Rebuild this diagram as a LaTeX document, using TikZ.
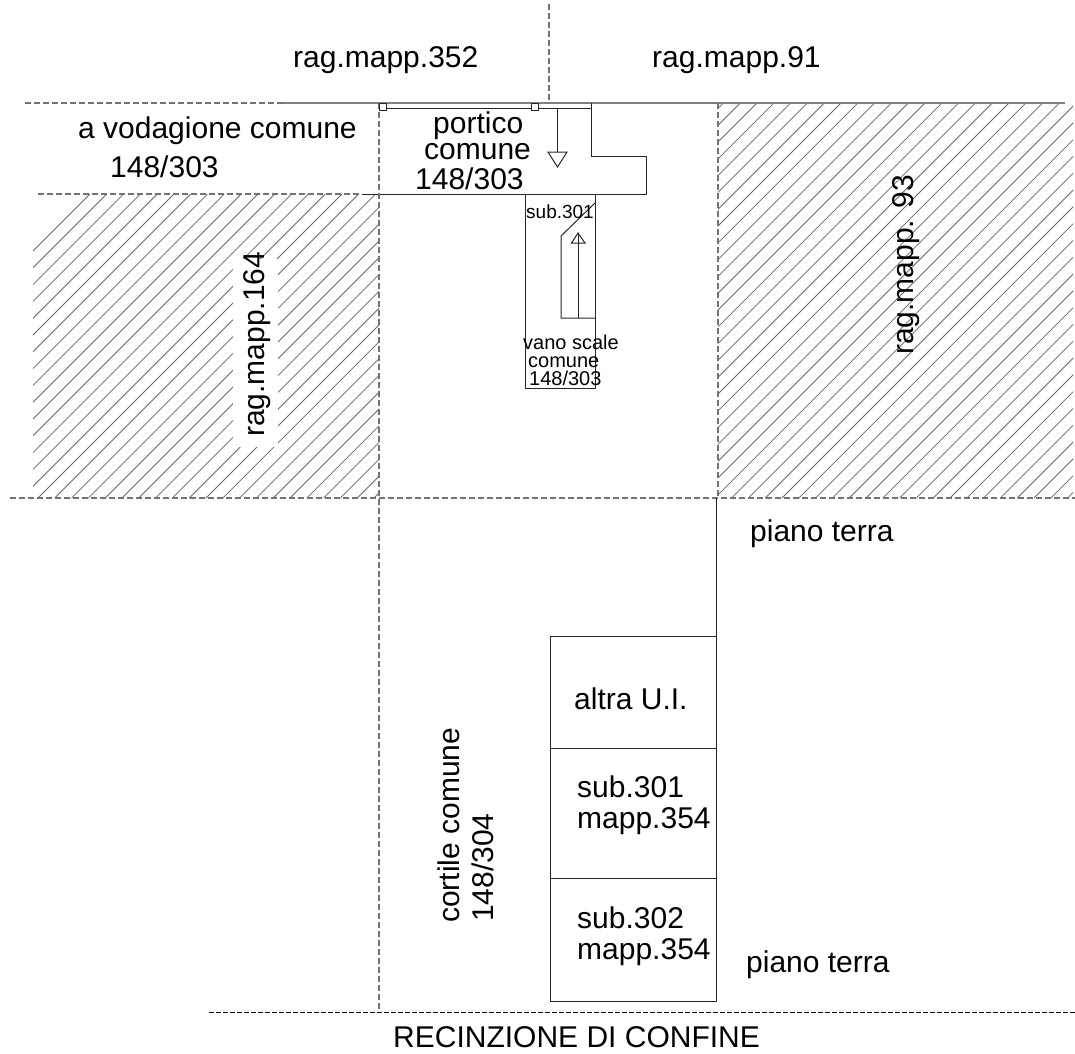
\documentclass[tikz,border=0pt]{standalone}
\usepackage{fontspec}
\setmainfont{Liberation Sans}
\tikzset{
  bigtext/.style={anchor=base west, inner sep=0pt, font=\fontsize{30}{30}\selectfont},
  smalltext/.style={anchor=base west, inner sep=0pt, font=\fontsize{20}{20}\selectfont},
  wall/.style={line width=1pt, black!85},
  boundary/.style={line width=2pt, black!50},
  dashline/.style={line width=1.2pt, black!55, dash pattern=on 6pt off 3pt},
  hatchline/.style={line width=0.8pt, black!60}
}
\begin{document}
\begin{tikzpicture}[x=1pt,y=-1pt]
\useasboundingbox (0,0) rectangle (1075,1053);
\begin{scope}
\clip (33,194) rectangle (379,498);
\foreach \k in {0,...,50} \draw [hatchline] ({284+\k*16.8-194},194) -- ({284+\k*16.8-498},498);
\end{scope}
\begin{scope}
\clip (718,103) rectangle (1073,498);
\foreach \k in {-10,...,50} \draw [hatchline] ({860+\k*16.8-103},103) -- ({860+\k*16.8-498},498);
\end{scope}
\fill [white] (233,259) rectangle (278,447);
\draw [dashline] (25,103) -- (283,103);
\draw [boundary] (283,103) -- (1065,103);
\draw [dashline] (38,194) -- (362,194);
\draw [wall] (362,194) -- (646,194) -- (646,156) -- (591,156) -- (591,103);
\draw [dashline] (10,498) -- (1075,498);
\draw [dashline] (379,103) -- (379,1012);
\draw [dashline] (718,103) -- (718,498);
\draw [dashline] (549,4) -- (549,103);
\draw [line width=0.8pt, black, dash pattern=on 5pt off 2pt] (209,1012) -- (1075,1012);
\draw [wall] (386,108.5) -- (591,108.5);
\draw [wall, fill=white] (379.5,103) rectangle (386,110);
\draw [wall, fill=white] (531,103) rectangle (538,110);
\draw [wall] (557,108) -- (557,152);
\draw [wall] (548,152) -- (567,152) -- (557.5,167) -- cycle;
\draw [wall] (525,194) -- (525,388) -- (595,388) -- (595,194);
\draw [wall] (595,318) -- (561,318) -- (561,236) -- (595,203);
\draw [wall] (578,318) -- (578,233);
\draw [wall] (571.5,243) -- (585,243) -- (578,233) -- cycle;
\draw [wall] (716.5,498) -- (716.5,1001) -- (550.5,1001) -- (550.5,636) -- (716.5,636);
\draw [wall] (550.5,748) -- (716.5,748);
\draw [wall] (550.5,878) -- (716.5,878);
\node [bigtext] (ragA) at (293,67) {rag.mapp.352};
\node [bigtext] (ragB) at (652,67) {rag.mapp.91};
\node [bigtext] (vodagione) at (78,138) {a vodagione comune};
\node [bigtext] (vodagioneB) at (110,177) {148/303};
\node [bigtext] (porticoA) at (433,133) {portico};
\node [bigtext] (porticoB) at (424,159) {comune};
\node [bigtext] (porticoC) at (415,189) {148/303};
\node [smalltext, font=\fontsize{19}{19}\selectfont] (substair) at (526,218) {sub.301};
\node [smalltext] (vanoA) at (523,349) {vano scale};
\node [smalltext] (vanoB) at (528,367) {comune};
\node [smalltext] (vanoC) at (529,385) {148/303};
\node [bigtext, rotate=90] (ragC) at (264,437) {rag.mapp.164};
\node [bigtext, rotate=90] (ragD) at (913,355) {rag.mapp. 93};
\node [bigtext] (pianoA) at (750,541) {piano terra};
\node [bigtext] (altra) at (574,709) {altra U.I.};
\node [bigtext] (subA) at (577,797) {sub.301};
\node [bigtext] (mappA) at (577,828) {mapp.354};
\node [bigtext] (subB) at (577,928) {sub.302};
\node [bigtext] (mappB) at (577,959) {mapp.354};
\node [bigtext] (pianoB) at (746,972) {piano terra};
\node [bigtext, rotate=90] (cortile) at (459,923) {cortile comune};
\node [bigtext, rotate=90] (cortileB) at (493,922) {148/304};
\node [bigtext] (recinzione) at (393,1047) {RECINZIONE DI CONFINE};
\end{tikzpicture}
\end{document}
